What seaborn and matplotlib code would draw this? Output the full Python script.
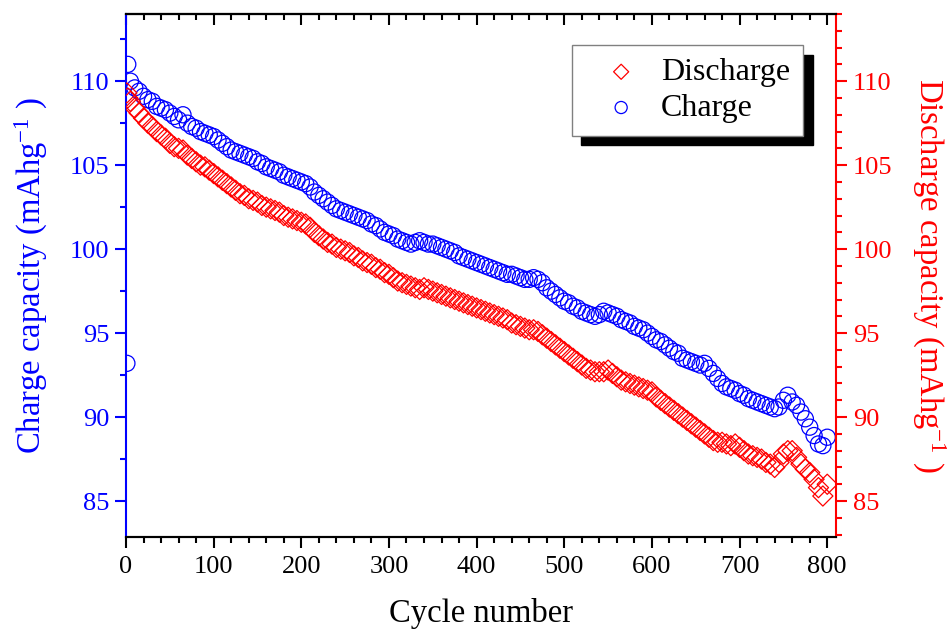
import numpy as np
import pandas as pd
import matplotlib
matplotlib.use("Agg")
import matplotlib.pyplot as plt
from matplotlib.ticker import MultipleLocator
import seaborn as sns

cycle = [1, 2] + list(range(5, 805, 5))

charge = [93.2, 111.0,
          110.0, 109.6, 109.4, 109.1, 108.9, 108.8, 108.5, 108.4, 108.3, 108.1,
          107.9, 107.7, 108.0, 107.5, 107.3, 107.2, 107.0, 106.9, 106.8, 106.7,
          106.5, 106.3, 106.1, 105.9, 105.8, 105.7, 105.6, 105.5, 105.4, 105.2,
          105.1, 104.9, 104.8, 104.7, 104.6, 104.4, 104.3, 104.2, 104.1, 104.0,
          103.9, 103.7, 103.4, 103.2, 103.0, 102.8, 102.6, 102.4, 102.3, 102.2,
          102.1, 102.0, 101.9, 101.8, 101.7, 101.5, 101.4, 101.2, 101.0, 100.9,
          100.8, 100.6, 100.5, 100.4, 100.3, 100.4, 100.5, 100.4, 100.3, 100.3,
          100.2, 100.1, 100.0, 99.9, 99.8, 99.6, 99.5, 99.4, 99.3, 99.2,
          99.1, 99.0, 98.9, 98.8, 98.7, 98.6, 98.5, 98.5, 98.4, 98.3,
          98.2, 98.2, 98.3, 98.2, 98.0, 97.7, 97.5, 97.3, 97.1, 96.9,
          96.8, 96.6, 96.5, 96.3, 96.2, 96.1, 96.0, 96.1, 96.3, 96.2,
          96.1, 96.0, 95.8, 95.7, 95.6, 95.4, 95.3, 95.2, 95.0, 94.8,
          94.6, 94.5, 94.3, 94.1, 93.9, 93.8, 93.5, 93.4, 93.3, 93.2,
          93.1, 93.2, 92.9, 92.6, 92.3, 92.0, 91.8, 91.7, 91.6, 91.4,
          91.3, 91.1, 91.0, 90.9, 90.8, 90.7, 90.6, 90.5, 90.6, 91.0,
          91.3, 90.9, 90.7, 90.3, 89.9, 89.4, 88.9, 88.4, 88.3, 88.8]

discharge = [109.3, 109.0,
             108.8, 108.4, 108.1, 107.8, 107.5, 107.3, 107.0, 106.8, 106.6, 106.3,
             106.1, 106.0, 105.9, 105.6, 105.4, 105.2, 105.0, 104.9, 104.7, 104.5,
             104.3, 104.1, 103.9, 103.7, 103.5, 103.3, 103.2, 103.0, 102.9, 102.8,
             102.6, 102.5, 102.4, 102.3, 102.2, 102.0, 101.9, 101.8, 101.7, 101.6,
             101.5, 101.3, 101.0, 100.8, 100.6, 100.4, 100.3, 100.1, 100.0, 99.9,
             99.8, 99.6, 99.5, 99.3, 99.2, 99.1, 98.9, 98.8, 98.6, 98.5,
             98.3, 98.1, 98.0, 97.9, 97.8, 97.7, 97.6, 97.7, 97.6, 97.5,
             97.4, 97.3, 97.2, 97.1, 97.0, 96.9, 96.8, 96.7, 96.6, 96.5,
             96.4, 96.3, 96.2, 96.1, 96.0, 95.9, 95.8, 95.6, 95.5, 95.4,
             95.3, 95.2, 95.2, 95.1, 94.9, 94.7, 94.5, 94.3, 94.1, 93.9,
             93.7, 93.5, 93.3, 93.1, 92.9, 92.8, 92.7, 92.7, 92.7, 92.8,
             92.6, 92.4, 92.2, 92.1, 92.0, 91.9, 91.8, 91.7, 91.6, 91.5,
             91.2, 91.0, 90.8, 90.6, 90.4, 90.2, 90.0, 89.8, 89.6, 89.4,
             89.2, 89.0, 88.8, 88.6, 88.5, 88.5, 88.4, 88.3, 88.4, 88.2,
             88.0, 87.8, 87.7, 87.6, 87.5, 87.3, 87.2, 87.0, 87.3, 87.8,
             88.0, 88.0, 87.6, 87.2, 86.9, 86.7, 86.3, 85.8, 85.3, 86.0]

df = pd.DataFrame({"cycle": cycle, "charge": charge, "discharge": discharge})

sns.set_theme(style="white")
plt.rcParams["font.family"] = ["Liberation Serif", "DejaVu Serif"]
plt.rcParams["mathtext.fontset"] = "custom"
plt.rcParams["mathtext.rm"] = "Liberation Serif"
plt.rcParams["mathtext.it"] = "Liberation Serif:italic"
plt.rcParams["mathtext.bf"] = "Liberation Serif:bold"
plt.rcParams["text.color"] = "black"
plt.rcParams["axes.labelcolor"] = "black"
plt.rcParams["xtick.color"] = "black"
plt.rcParams["ytick.color"] = "black"

BLUE = "#0000ff"
RED = "#ff0000"

fig = plt.figure(figsize=(9.48, 6.35), dpi=100)
ax = fig.add_axes([126 / 948, 1 - 537 / 635, 710 / 948, 523 / 635])
ax2 = ax.twinx()

sns.scatterplot(data=df, x="cycle", y="charge", ax=ax, marker="o", s=135,
                color=BLUE, facecolor="none", edgecolor=BLUE, linewidth=0.9,
                label="Charge", legend=False)
sns.scatterplot(data=df, x="cycle", y="discharge", ax=ax2, marker="D", s=105,
                color=RED, facecolor="none", edgecolor=RED, linewidth=0.9,
                label="Discharge", legend=False)

ylim = (82.86, 114.0)
ax.set_xlim(0, 810)
ax.set_ylim(*ylim)
ax2.set_ylim(*ylim)

ax.xaxis.set_major_locator(MultipleLocator(100))
ax.xaxis.set_minor_locator(MultipleLocator(20))
ax.yaxis.set_major_locator(MultipleLocator(5))
ax.yaxis.set_minor_locator(MultipleLocator(2.5))
ax2.yaxis.set_major_locator(MultipleLocator(5))
ax2.yaxis.set_minor_locator(MultipleLocator(1))

ax.tick_params(axis="x", which="major", direction="out", length=8, width=1.5,
               colors="black", labelsize=19, pad=6, bottom=True, top=False)
ax.tick_params(axis="x", which="minor", direction="out", length=4, width=1.5,
               bottom=True, top=False)
ax.tick_params(axis="y", which="major", direction="out", length=8, width=1.5,
               colors=BLUE, labelsize=19, pad=4, left=True, right=False)
ax.tick_params(axis="y", which="minor", direction="out", length=4, width=1.5,
               colors=BLUE, left=True, right=False)
ax2.tick_params(axis="y", which="major", direction="out", length=8, width=1.5,
                colors=RED, labelsize=19, pad=4, right=True, left=False)
ax2.tick_params(axis="y", which="minor", direction="out", length=4, width=1.5,
                colors=RED, right=True, left=False)

secx = ax.secondary_xaxis("top")
secx.xaxis.set_major_locator(MultipleLocator(100))
secx.xaxis.set_minor_locator(MultipleLocator(20))
secx.tick_params(axis="x", which="major", direction="in", length=8, width=1.5,
                 labeltop=False)
secx.tick_params(axis="x", which="minor", direction="in", length=4, width=1.5)
secx.spines["top"].set_linewidth(1.5)
secx.spines["top"].set_color("black")

for a in (ax, ax2):
    for s in a.spines.values():
        s.set_linewidth(1.5)
    a.spines["top"].set_color("black")
    a.spines["bottom"].set_color("black")
ax.spines["left"].set_color(BLUE)
ax.spines["right"].set_visible(False)
ax2.spines["left"].set_visible(False)
ax2.spines["right"].set_color(RED)

ax.set_xlabel("Cycle number", fontsize=23.5, labelpad=14, color="black")
ax.set_ylabel("Charge capacity (mAhg$^{-1}$ )", fontsize=23.5, color=BLUE,
              labelpad=14)
ax2.set_ylabel("Discharge capacity (mAhg$^{-1}$ )", fontsize=23.5, color=RED,
               rotation=270, va="bottom", labelpad=13)

h1 = ax2.collections[0]
h2 = ax.collections[0]
leg = ax2.legend([h1, h2], ["Discharge", "Charge"], loc="upper right",
                 bbox_to_anchor=(0.9535, 0.9407), fontsize=23, frameon=True,
                 fancybox=False, edgecolor="#808080", framealpha=1,
                 shadow={"color": "black", "alpha": 1, "ox": 7, "oy": -7},
                 markerscale=0.75, handlelength=2.3, handletextpad=0.1,
                 borderpad=0.4, borderaxespad=0, labelspacing=0.2)
leg.get_frame().set_linewidth(1.0)
for t in leg.get_texts():
    t.set_color("black")

fig.savefig("out.png", dpi=100)
